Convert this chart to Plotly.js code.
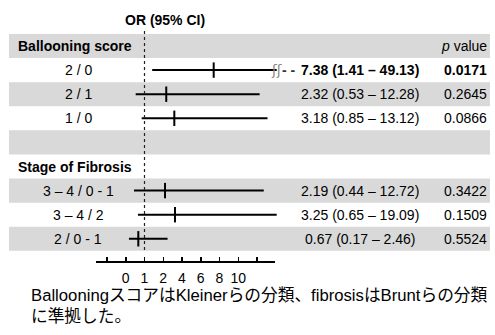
<!DOCTYPE html>
<html>
<head>
<meta charset="utf-8">
<script src="https://cdn.plot.ly/plotly-3.0.1.min.js"></script>
<style>html,body{margin:0;padding:0;background:#fff;}#chart{width:495px;height:335px;}</style>
</head>
<body>
<div id="chart"></div>
<script>
// ---- data ----
const groupNames = ['Ballooning score', 'Stage of Fibrosis'];
const comparisons = ['2 / 0', '2 / 1', '1 / 0', '3 – 4 / 0 - 1', '3 – 4 / 2', '2 / 0 - 1'];
const comparisonGroup = [0, 0, 0, 1, 1, 1];
const orValues = [7.38, 2.32, 3.18, 2.19, 3.25, 0.67];
const ciLow = [1.41, 0.53, 0.85, 0.44, 0.65, 0.17];
const ciHigh = [49.13, 12.28, 13.12, 12.72, 19.09, 2.46];
const pValues = ['0.0171', '0.2645', '0.0866', '0.3422', '0.1509', '0.5524'];
const significant = [true, false, false, false, false, false];
const offScale = [true, false, false, false, false, false];
const tickValues = [-1, 0, 1, 2, 4, 6, 8, 10, 12];
const tickLabels = ['', '0', '1', '2', '4', '6', '8', '10', ''];
const headerText = 'OR (95% CI)';
const pHeader = '<i>p</i> value';
const footnote1 = 'BallooningスコアはKleinerらの分類、fibrosisはBruntらの分類';
const footnote2 = 'に準拠した。';

// ---- broken scale: linear to 2, then 2 units per step ----
function toAxis(v) { return v <= 2 ? v : 2 + (v - 2) / 2; }
const AXIS_CAP = 8.05;
function capped(v) { return Math.min(toAxis(v), AXIS_CAP); }

// row layout
const rows = [];
let r = 0;
const compRow = [];
groupNames.forEach((g, gi) => {
  if (gi > 0) { r++; } // spacer row
  rows.push({text: g, row: r}); r++;
  comparisons.forEach((c, i) => {
    if (comparisonGroup[i] === gi) { compRow[i] = r; r++; }
  });
});
const nRows = r;

const W = 495, H = 335;
const px = v => v / W;
const py = v => 1 - v / H;
const FONT = 'Arial, "Liberation Sans", sans-serif';
const JFONT = '"Liberation Sans", "Noto Sans CJK JP", sans-serif';

// CI lines
const lx = [], ly = [];
comparisons.forEach((c, i) => {
  lx.push(toAxis(ciLow[i]), capped(ciHigh[i]), null);
  ly.push(compRow[i], compRow[i], null);
});
const traces = [
  {x: lx, y: ly, mode: 'lines', line: {color: '#000', width: 2}, hoverinfo: 'skip', showlegend: false},
  {x: orValues.map(toAxis), y: compRow, mode: 'markers', hoverinfo: 'skip', showlegend: false,
   marker: {symbol: 'line-ns', size: 11, line: {color: '#000', width: 2}}},
  {x: [toAxis(tickValues[1])], y: [0], xaxis: 'x2', yaxis: 'y', mode: 'markers',
   marker: {opacity: 0}, hoverinfo: 'skip', showlegend: false}
];

const shapes = [];
for (let k = 0; k < nRows; k += 2) {
  shapes.push({type: 'rect', xref: 'paper', yref: 'y', x0: px(9), x1: px(490), y0: k - 0.5, y1: k + 0.5,
    fillcolor: '#d9d9d9', line: {width: 0}, layer: 'below'});
}
shapes.push({type: 'line', xref: 'x', yref: 'paper', x0: toAxis(1), x1: toAxis(1), y0: py(250), y1: py(31),
  line: {color: '#222', width: 1.2, dash: '3px,3px'}});

const annotations = [];
const ann = (o) => annotations.push(Object.assign({showarrow: false, xanchor: 'center', yanchor: 'middle',
  font: {size: 14, family: FONT, color: '#000'}}, o));
ann({text: '<b>' + headerText + '</b>', xref: 'paper', yref: 'paper', x: px(165), y: py(20)});
ann({text: pHeader, xref: 'paper', yref: 'y', x: px(489), y: 0, xanchor: 'right'});
rows.forEach(o => {
  ann({text: '<b>' + o.text + '</b>', xref: 'paper', yref: 'y', x: px(16), y: o.row, xanchor: 'left'});
});
comparisons.forEach((c, i) => {
  const b = s => significant[i] ? '<b>' + s + '</b>' : s;
  ann({text: c, xref: 'paper', yref: 'y', x: px(78), y: compRow[i]});
  const orTxt = orValues[i].toFixed(2) + ' (' + ciLow[i].toFixed(2) + ' – ' + ciHigh[i].toFixed(2) + ')';
  ann({text: b(orTxt), xref: 'paper', yref: 'y', x: px(360), y: compRow[i]});
  ann({text: b(pValues[i]), xref: 'paper', yref: 'y', x: px(489), y: compRow[i], xanchor: 'right'});
  if (offScale[i]) {
    ann({text: 'ʃʃ', xref: 'x', yref: 'y', x: capped(ciHigh[i]), y: compRow[i], xanchor: 'center',
      font: {size: 14, family: '"DejaVu Sans", sans-serif', color: '#888'}});
    ann({text: '<b>- -</b>', xref: 'paper', yref: 'y', x: px(298), y: compRow[i], xanchor: 'right',
      font: {size: 14, family: FONT, color: '#333'}});
  }
});
ann({text: footnote1, xref: 'paper', yref: 'paper', x: px(29), y: py(295), xanchor: 'left',
  font: {size: 16.7, family: JFONT, color: '#000'}});
ann({text: footnote2, xref: 'paper', yref: 'paper', x: px(29), y: py(316), xanchor: 'left',
  font: {size: 16.7, family: JFONT, color: '#000'}});

// axis mapping: 18.75 px per scale unit, scale unit -1 at 107px
const PPU = 18.75;
const uAt = p => -1 + (p - 107) / PPU;
const rowPx = 24.1, row0 = 46;
const yAt = p => (p - row0) / rowPx;

const layout = {
  width: W, height: H, margin: {l: 0, r: 0, t: 0, b: 0},
  paper_bgcolor: '#fff', plot_bgcolor: 'rgba(0,0,0,0)',
  showlegend: false,
  xaxis: {domain: [0, 1], range: [uAt(0), uAt(W)], visible: false, fixedrange: true},
  yaxis: {domain: [0, 1], range: [yAt(H), yAt(0)], visible: false, fixedrange: true},
  xaxis2: {domain: [px(96), px(275)], range: [uAt(96), uAt(275)], anchor: 'free', position: py(262),
    showline: true, linecolor: '#000', linewidth: 2, ticks: 'inside', ticklen: 4, tickwidth: 1.5, tickcolor: '#000',
    tickvals: tickValues.map(toAxis), ticktext: tickLabels, showgrid: false, zeroline: false,
    ticklabelstandoff: 3,
    tickfont: {size: 14, family: FONT, color: '#000'}, fixedrange: true},
  shapes: shapes,
  annotations: annotations
};
Plotly.newPlot('chart', traces, layout, {staticPlot: true, displayModeBar: false});
</script>
</body>
</html>
